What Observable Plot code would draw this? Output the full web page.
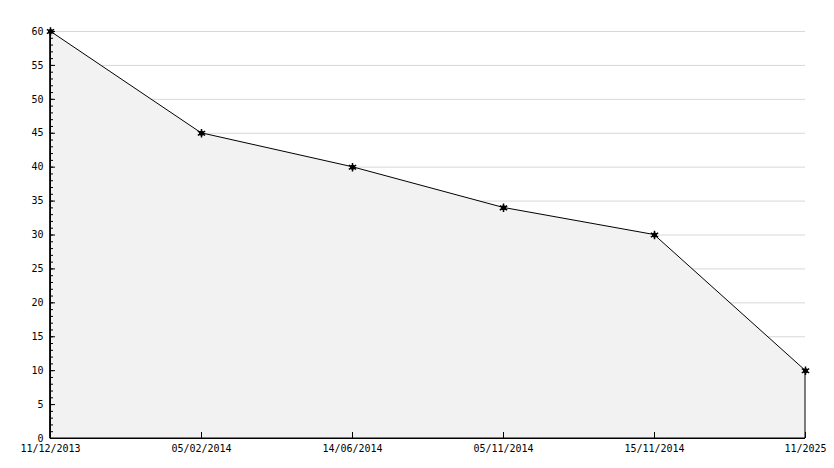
<!DOCTYPE html>
<html>
<head>
<meta charset="utf-8">
<script src="https://cdn.jsdelivr.net/npm/d3@7"></script>
<script src="https://cdn.jsdelivr.net/npm/@observablehq/plot@0.6"></script>
<style>
  html, body { margin: 0; padding: 0; background: #fff; }
  #chart svg { display: block; }
</style>
</head>
<body>
<div id="chart"></div>
<script>
const dates = ["11/12/2013", "05/02/2014", "14/06/2014", "05/11/2014", "15/11/2014", "11/2025"];
const values = [60, 45, 40, 34, 30, 10];
const yMajorTicks = [0, 5, 10, 15, 20, 25, 30, 35, 40, 45, 50, 55, 60];
const yMinorTicks = d3.range(0, 61, 1);
const gridTicks = [5, 10, 15, 20, 25, 30, 35, 40, 45, 50, 55, 60];

const data = dates.map((d, i) => ({date: d, value: values[i]}));

const chart = Plot.plot({
  width: 834,
  height: 468,
  marginLeft: 50,
  marginRight: 29,
  marginTop: 31,
  marginBottom: 30,
  style: {fontFamily: "'DejaVu Sans Mono', monospace", fontSize: "10px", color: "#000", background: "#fff"},
  x: {type: "point", domain: dates, padding: 0},
  y: {domain: [0, 60]},
  marks: [
    Plot.gridY(gridTicks, {stroke: "#d8d8d8", strokeOpacity: 1}),
    Plot.areaY(data, {x: "date", y: "value", fill: "#f2f2f2", stroke: "#000", strokeWidth: 1}),
    Plot.ruleY([0], {stroke: "#000"}),
    Plot.ruleX([dates[0]], {stroke: "#000"}),
    Plot.axisY(yMinorTicks, {tickSize: -3, tickFormat: () => "", label: null}),
    Plot.axisY(yMajorTicks, {tickSize: -5, tickFormat: () => "", label: null}),
    Plot.axisY(yMajorTicks, {tickSize: 0, tickPadding: 7, label: null, fill: "#000"}),
    Plot.axisX(dates, {tickSize: -6, tickFormat: () => "", label: null}),
    Plot.axisX(dates, {tickSize: 0, tickPadding: 6, label: null, fill: "#000"}),
    Plot.dot(data, {x: "date", y: "value", r: 2.5, fill: "#000"}),
    Plot.dot(data, {x: "date", y: "value", symbol: "asterisk", r: 4, stroke: "#000", strokeWidth: 1.5})
  ]
});
document.getElementById("chart").appendChild(chart);
</script>
</body>
</html>
